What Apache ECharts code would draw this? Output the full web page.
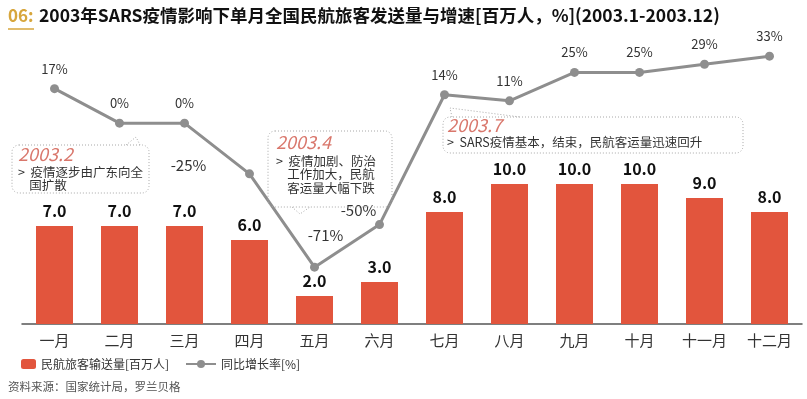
<!DOCTYPE html>
<html>
<head>
<meta charset="utf-8">
<script src="https://cdn.jsdelivr.net/npm/echarts@6/dist/echarts.min.js"></script>
<style>
  html, body { margin: 0; padding: 0; background: #fff; }
  #chart { width: 807px; height: 399px; }
</style>
</head>
<body>
<div id="chart"></div>
<script>
const months = ["一月", "二月", "三月", "四月", "五月", "六月", "七月", "八月", "九月", "十月", "十一月", "十二月"];
const passengers = [7.0, 7.0, 7.0, 6.0, 2.0, 3.0, 8.0, 10.0, 10.0, 10.0, 9.0, 8.0];
const growth = [17, 0, 0, -25, -71, -50, 14, 11, 25, 25, 29, 33];

const FONT = "'Noto Sans CJK SC', 'Noto Sans', sans-serif";
const BAR_COLOR = "#e2553d";
const LINE_COLOR = "#8e8e8e";

// label offsets for the growth line (the low points are labelled off to the side)
const lineLabelOffset = { 3: [-61, 12], 4: [11, -11], 5: [-21, 7] };

const chart = echarts.init(document.getElementById("chart"));

const lineData = growth.map((v, i) => {
  const off = lineLabelOffset[i];
  if (!off) return v;
  return { value: v, label: { offset: off, fontSize: 15 } };
});

// dotted speech bubbles
const bubbleStyle = { fill: "none", stroke: "#a8a8a8", lineWidth: 1, lineDash: [1, 2] };
function bubble(x, y, w, h, tail) {
  return [
    { type: "rect", shape: { x, y, width: w, height: h, r: 7 }, style: bubbleStyle, z: 5 },
    { type: "polyline", shape: { points: tail }, style: bubbleStyle, z: 5 },
  ];
}
function note(x, y, year, lines, gap) {
  return [
    {
      type: "text", left: x, top: y,
      style: { text: year, font: "italic 18px " + FONT, fill: "#d9776c" }, z: 6,
    },
    {
      type: "text", left: x, top: y + gap,
      style: { text: lines, font: "12.5px " + FONT, fill: "#333", lineHeight: 13.5 }, z: 6,
    },
  ];
}

const option = {
  animation: false,
  textStyle: { fontFamily: FONT },
  grid: { left: 22, right: 5, top: 44, height: 280 },
  legend: [
    {
      data: ["民航旅客输送量[百万人]"],
      left: 16, top: 353, itemWidth: 15, itemHeight: 10, itemGap: 6,
      textStyle: { fontSize: 12, color: "#333" },
    },
    {
      data: ["同比增长率[%]"],
      left: 180, top: 353, itemWidth: 30, itemHeight: 10,
      textStyle: { fontSize: 12, color: "#333" },
    },
  ],
  xAxis: {
    type: "category",
    data: months,
    axisLine: { lineStyle: { color: "#555", width: 1.5 } },
    axisTick: { show: false },
    axisLabel: { fontSize: 15, color: "#333", margin: 9 },
  },
  yAxis: [
    { type: "value", min: 0, max: 20, show: false },
    { type: "value", min: -99, max: 39, show: false },
  ],
  series: [
    {
      name: "民航旅客输送量[百万人]",
      type: "bar",
      data: passengers,
      barWidth: 37,
      itemStyle: { color: BAR_COLOR },
      label: {
        show: true, position: "top", distance: 7,
        formatter: p => p.value.toFixed(1),
        fontSize: 16, fontWeight: "bold", color: "#111",
      },
    },
    {
      name: "同比增长率[%]",
      type: "line",
      yAxisIndex: 1,
      data: lineData,
      symbol: "circle",
      symbolSize: 9,
      lineStyle: { color: LINE_COLOR, width: 3 },
      itemStyle: { color: LINE_COLOR },
      label: {
        show: true, position: "top", distance: 9,
        formatter: p => p.value + "%",
        fontSize: 13, color: "#333",
      },
      z: 4,
    },
  ],
  graphic: [
    {
      type: "text", left: 8, top: 7,
      style: { text: "06:", font: "bold 17px " + FONT, fill: "#d7a63c" },
    },
    {
      type: "line", shape: { x1: 8, y1: 29, x2: 34, y2: 29 },
      style: { stroke: "#d7a63c", lineWidth: 1.5 },
    },
    {
      type: "text", left: 39, top: 7,
      style: { text: "2003年SARS疫情影响下单月全国民航旅客发送量与增速[百万人，%](2003.1-2003.12)", font: "bold 17.5px " + FONT, fill: "#111" },
    },
    {
      type: "text", left: 8, top: 381,
      style: { text: "资料来源：国家统计局，罗兰贝格", font: "11.5px " + FONT, fill: "#555" },
    },
    ...bubble(12, 145, 137, 48, [[126, 145], [136, 137], [140, 145]]),
    ...note(18, 145, "2003.2", ">  疫情逐步由广东向全\n    国扩散", 20),
    ...bubble(268, 131, 124, 76, [[292, 207], [300, 214], [310, 207]]),
    ...note(276, 133, "2003.4", ">  疫情加剧、防治\n    工作加大，民航\n    客运量大幅下跌", 21),
    ...bubble(443, 117, 300, 36, [[452, 117], [450, 108], [520, 117]]),
    ...note(447, 116, "2003.7", ">  SARS疫情基本，结束，民航客运量迅速回升", 19),
  ],
};

chart.setOption(option);
</script>
</body>
</html>
